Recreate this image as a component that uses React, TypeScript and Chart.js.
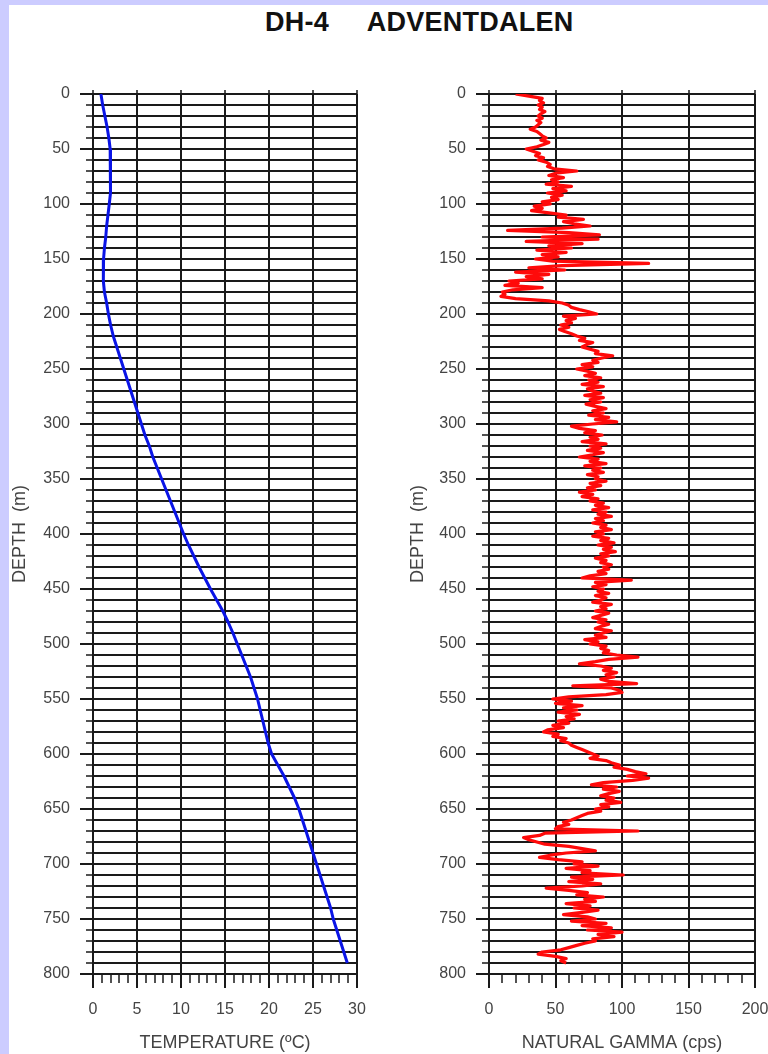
import React, { useEffect, useRef } from 'react';
import { Chart, registerables } from 'chart.js';

Chart.register(...registerables);

// ---- Borehole DH-4, Adventdalen: logged profiles ----
const CHART_TITLE = 'DH-4     ADVENTDALEN';
const DEPTH_TITLE = 'DEPTH  (m)';
const TEMP_TITLE = 'TEMPERATURE (ºC)';
const GAMMA_TITLE = 'NATURAL GAMMA (cps)';

// depth axis (m)
const depthMin = 0;
const depthMax = 800;
const depthMinorStep = 10;
const depthMajorStep = 50;

// temperature axis (°C)
const tempMin = 0;
const tempMax = 30;
const tempMinorStep = 1;
const tempMajorStep = 5;

// gamma axis (cps)
const gammaMin = 0;
const gammaMax = 200;
const gammaMinorStep = 10;
const gammaMajorStep = 50;

// temperature log
const tempDepth = [
  0, 10, 20, 30, 40, 50, 60, 70, 80, 90,
  100, 110, 120, 130, 140, 150, 160, 170, 180, 190,
  200, 210, 220, 230, 240, 250, 260, 270, 280, 290,
  300, 310, 320, 330, 340, 350, 360, 370, 380, 390,
  400, 410, 420, 430, 440, 450, 460, 470, 480, 490,
  500, 510, 520, 530, 540, 550, 560, 570, 580, 590,
  600, 610, 620, 630, 640, 650, 660, 670, 680, 690,
  700, 710, 720, 730, 740, 750, 760, 770, 780, 790,
];
const tempC = [
  0.9, 1.1, 1.35, 1.6, 1.8, 1.95, 2.0, 2.0, 2.0, 1.95,
  1.85, 1.7, 1.55, 1.45, 1.3, 1.2, 1.15, 1.2, 1.3, 1.55,
  1.75, 2.0, 2.3, 2.7, 3.1, 3.5, 3.9, 4.3, 4.7, 5.1,
  5.5, 5.9, 6.4, 6.8, 7.3, 7.8, 8.3, 8.8, 9.3, 9.8,
  10.3, 10.85, 11.45, 12.05, 12.7, 13.35, 14.05, 14.75, 15.35, 15.9,
  16.4, 16.9, 17.4, 17.9, 18.3, 18.7, 19.0, 19.3, 19.6, 19.9,
  20.3, 21.0, 21.7, 22.3, 22.9, 23.4, 23.8, 24.2, 24.6, 25.0,
  25.4, 25.8, 26.2, 26.6, 27.0, 27.3, 27.7, 28.1, 28.5, 28.9,
];

// natural gamma log
const gammaDepth = [
  0, 2, 4, 6, 8, 10, 12, 14, 16, 18,
  20, 22, 24, 26, 28, 30, 32, 34, 36, 38,
  40, 42, 44, 46, 48, 50, 52, 54, 56, 58,
  60, 62, 64, 66, 68, 70, 72, 74, 76, 78,
  80, 82, 84, 86, 88, 90, 92, 94, 96, 98,
  100, 102, 104, 106, 108, 110, 112, 114, 116, 118,
  120, 122, 124, 126, 128, 130, 132, 134, 136, 138,
  140, 142, 144, 146, 148, 150, 152, 154, 156, 158,
  160, 162, 164, 166, 168, 170, 172, 174, 176, 178,
  180, 182, 184, 186, 188, 190, 192, 194, 196, 198,
  200, 202, 204, 206, 208, 210, 212, 214, 216, 218,
  220, 222, 224, 226, 228, 230, 232, 234, 236, 238,
  240, 242, 244, 246, 248, 250, 252, 254, 256, 258,
  260, 262, 264, 266, 268, 270, 272, 274, 276, 278,
  280, 282, 284, 286, 288, 290, 292, 294, 296, 298,
  300, 302, 304, 306, 308, 310, 312, 314, 316, 318,
  320, 322, 324, 326, 328, 330, 332, 334, 336, 338,
  340, 342, 344, 346, 348, 350, 352, 354, 356, 358,
  360, 362, 364, 366, 368, 370, 372, 374, 376, 378,
  380, 382, 384, 386, 388, 390, 392, 394, 396, 398,
  400, 402, 404, 406, 408, 410, 412, 414, 416, 418,
  420, 422, 424, 426, 428, 430, 432, 434, 436, 438,
  440, 442, 444, 446, 448, 450, 452, 454, 456, 458,
  460, 462, 464, 466, 468, 470, 472, 474, 476, 478,
  480, 482, 484, 486, 488, 490, 492, 494, 496, 498,
  500, 502, 504, 506, 508, 510, 512, 514, 516, 518,
  520, 522, 524, 526, 528, 530, 532, 534, 536, 538,
  540, 542, 544, 546, 548, 550, 552, 554, 556, 558,
  560, 562, 564, 566, 568, 570, 572, 574, 576, 578,
  580, 582, 584, 586, 588, 590, 592, 594, 596, 598,
  600, 602, 604, 606, 608, 610, 612, 614, 616, 618,
  620, 622, 624, 626, 628, 630, 632, 634, 636, 638,
  640, 642, 644, 646, 648, 650, 652, 654, 656, 658,
  660, 662, 664, 666, 668, 670, 672, 674, 676, 678,
  680, 682, 684, 686, 688, 690, 692, 694, 696, 698,
  700, 702, 704, 706, 708, 710, 712, 714, 716, 718,
  720, 722, 724, 726, 728, 730, 732, 734, 736, 738,
  740, 742, 744, 746, 748, 750, 752, 754, 756, 758,
  760, 762, 764, 766, 768, 770, 772, 774, 776, 778,
  780, 782, 784, 786, 788, 790,
];
const gammaCps = [
  20, 30, 40, 38, 41, 37, 40, 38, 42, 39,
  37, 40, 36, 39, 37, 35, 31, 36, 38, 40,
  43, 39, 45, 41, 36, 28, 33, 38, 35, 41,
  37, 43, 46, 44, 49, 66, 50, 45, 56, 47,
  52, 43, 62, 48, 58, 44, 55, 47, 52, 40,
  46, 34, 40, 32, 45, 58, 52, 71, 56, 64,
  76, 55, 14, 60, 83, 40, 82, 28, 70, 45,
  62, 36, 58, 40, 52, 35, 48, 120, 55, 30,
  57, 20, 45, 28, 40, 15, 22, 12, 40, 18,
  10, 12, 9, 20, 45, 55, 60, 62, 68, 75,
  81, 56, 65, 58, 62, 54, 60, 53, 57, 62,
  66, 72, 68, 78, 73, 70, 76, 82, 80, 93,
  85, 78, 82, 70, 78, 66, 74, 80, 72, 84,
  75, 82, 70, 86, 74, 78, 84, 72, 86, 76,
  84, 73, 80, 88, 78, 86, 75, 90, 80, 96,
  78, 62, 68, 80, 72, 85, 76, 82, 70, 88,
  76, 84, 74, 86, 78, 68, 82, 76, 88, 72,
  84, 78, 86, 74, 82, 80, 88, 76, 84, 74,
  80, 68, 78, 70, 82, 76, 86, 80, 90, 78,
  88, 82, 92, 80, 86, 78, 88, 84, 92, 80,
  86, 78, 90, 84, 94, 82, 92, 86, 95, 84,
  90, 80, 88, 84, 92, 86, 90, 82, 88, 76,
  70, 107, 80, 88, 78, 86, 82, 90, 80, 88,
  84, 78, 92, 84, 88, 80, 90, 84, 78, 88,
  82, 90, 84, 80, 92, 86, 80, 88, 72, 82,
  76, 88, 84, 90, 86, 96, 112, 90, 80, 68,
  84, 92, 86, 96, 88, 94, 84, 90, 111, 63,
  92, 98, 100, 88, 60, 48, 62, 50, 70, 56,
  66, 52, 68, 58, 64, 52, 60, 48, 56, 44,
  41, 52, 48, 58, 54, 60, 62, 66, 70, 74,
  78, 82, 76, 88, 92, 98, 94, 104, 110, 118,
  104, 120, 108, 86, 77, 96, 86, 98, 90, 84,
  94, 88, 99, 84, 90, 80, 84, 74, 70, 66,
  62, 56, 60, 52, 50, 112, 42, 38, 26, 30,
  36, 42, 60, 70, 80, 58, 46, 38, 52, 70,
  64, 82, 58, 76, 70, 101, 62, 78, 60, 84,
  70, 43, 60, 74, 66, 86, 72, 80, 58, 76,
  64, 82, 70, 56, 74, 80, 62, 88, 70, 92,
  74, 100, 82, 94, 78, 80, 72, 66, 60, 54,
  40, 37, 50, 58, 54, 58,
];

const INK = '#1a1a1a';
const LABEL = '#444444';
const FONT = 'Arial, "Liberation Sans", sans-serif';

const isMultiple = (v: number, step: number) => {
  const r = Math.abs(v / step - Math.round(v / step));
  return r < 1e-6;
};

// short minor ticks on both axes plus little stubs above the top border
const minorTicks = {
  id: 'minorTicks',
  afterDraw(chart: any, _args: any, opts: any) {
    const { ctx, chartArea } = chart;
    const xs = chart.scales.x;
    const ys = chart.scales.y;
    ctx.save();
    ctx.strokeStyle = INK;
    ctx.lineWidth = 1.5;
    ctx.beginPath();
    xs.ticks.forEach((t: any) => {
      const px = Math.round(xs.getPixelForValue(t.value));
      if (isMultiple(t.value, opts.xMajor)) {
        ctx.moveTo(px, chartArea.top - 4);
        ctx.lineTo(px, chartArea.top);
      } else {
        ctx.moveTo(px, chartArea.bottom);
        ctx.lineTo(px, chartArea.bottom + 9);
      }
    });
    ys.ticks.forEach((t: any) => {
      if (!isMultiple(t.value, depthMajorStep)) {
        const py = Math.round(ys.getPixelForValue(t.value));
        ctx.moveTo(chartArea.left - 7, py);
        ctx.lineTo(chartArea.left, py);
      }
    });
    ctx.stroke();
    ctx.restore();
  },
};

type PanelProps = {
  depth: number[];
  values: number[];
  color: string;
  lineWidth: number;
  xMin: number;
  xMax: number;
  xMinor: number;
  xMajor: number;
  xTitle: string;
  left: number;
  padLeft: number;
  yWidth: number;
  padRight: number;
};

const W = 384;
const H = 1054;

function LogPanel(p: PanelProps) {
  const ref = useRef<HTMLCanvasElement | null>(null);

  useEffect(() => {
    const canvas = ref.current;
    if (!canvas) return;
    const points = p.depth.map((d, i) => ({ x: p.values[i], y: d }));
    const majorX = (c: any) => (c.tick && isMultiple(c.tick.value, p.xMajor) ? INK : 'transparent');
    const majorY = (c: any) => (c.tick && isMultiple(c.tick.value, depthMajorStep) ? INK : 'transparent');

    const chart = new Chart(canvas, {
      type: 'scatter',
      data: {
        datasets: [
          {
            data: points,
            showLine: true,
            borderColor: p.color,
            backgroundColor: p.color,
            borderWidth: p.lineWidth,
            borderJoinStyle: 'round',
            pointRadius: 0,
            tension: 0,
            fill: false,
          },
        ],
      },
      options: {
        animation: false,
        responsive: false,
        maintainAspectRatio: false,
        devicePixelRatio: 1,
        layout: { padding: { top: 94, bottom: 0, left: p.padLeft, right: p.padRight } },
        plugins: {
          legend: { display: false },
          tooltip: { enabled: false },
          minorTicks: { xMajor: p.xMajor },
        } as any,
        scales: {
          x: {
            type: 'linear',
            position: 'bottom',
            min: p.xMin,
            max: p.xMax,
            afterFit: (s: any) => {
              s.height = 80;
              s.paddingLeft = 0;
              s.paddingRight = 0;
            },
            ticks: {
              stepSize: p.xMinor,
              autoSkip: false,
              maxRotation: 0,
              padding: 12,
              color: LABEL,
              font: { family: FONT, size: 16 },
              callback: (v: any) => (isMultiple(Number(v), p.xMajor) ? String(v) : ''),
            },
            grid: {
              color: majorX,
              tickColor: majorX,
              lineWidth: 2,
              tickWidth: 2,
              tickLength: 14,
            },
            border: { color: INK, width: 2 },
            title: {
              display: true,
              text: p.xTitle,
              color: LABEL,
              font: { family: FONT, size: 18 },
              padding: { top: 0, bottom: 0 },
            },
          },
          y: {
            type: 'linear',
            position: 'left',
            reverse: true,
            min: depthMin,
            max: depthMax,
            afterFit: (s: any) => {
              s.width = p.yWidth;
              s.paddingTop = 0;
              s.paddingBottom = 0;
            },
            ticks: {
              stepSize: depthMinorStep,
              autoSkip: false,
              padding: 10,
              color: LABEL,
              font: { family: FONT, size: 16 },
              callback: (v: any) => (isMultiple(Number(v), depthMajorStep) ? String(v) : ''),
            },
            grid: {
              color: INK,
              tickColor: majorY,
              lineWidth: 2,
              tickWidth: 2,
              tickLength: 13,
            },
            border: { color: INK, width: 2 },
            title: {
              display: true,
              text: DEPTH_TITLE,
              color: LABEL,
              font: { family: FONT, size: 18 },
              padding: { top: 9, bottom: 0 },
            },
          },
        },
      } as any,
      plugins: [minorTicks],
    });

    return () => chart.destroy();
  }, []);

  return (
    <canvas
      ref={ref}
      width={W}
      height={H}
      style={{ position: 'absolute', left: p.left, top: 0, width: W, height: H }}
    />
  );
}

export default function App() {
  return (
    <div
      style={{
        position: 'absolute',
        left: 0,
        top: 0,
        width: 768,
        height: 1054,
        background: '#ccccff',
        overflow: 'hidden',
      }}
    >
      <div
        style={{
          position: 'absolute',
          left: 9,
          top: 5,
          right: 0,
          bottom: 0,
          background: '#ffffff',
        }}
      />
      <div
        style={{
          position: 'absolute',
          left: 265,
          top: 9,
          fontFamily: FONT,
          fontWeight: 'bold',
          fontSize: 27,
          lineHeight: '27px',
          letterSpacing: '0.25px',
          whiteSpace: 'pre',
          color: '#111',
        }}
      >
        {CHART_TITLE}
      </div>
      <LogPanel
        depth={tempDepth}
        values={tempC}
        color="#0a14e6"
        lineWidth={3}
        xMin={tempMin}
        xMax={tempMax}
        xMinor={tempMinorStep}
        xMajor={tempMajorStep}
        xTitle={TEMP_TITLE}
        left={0}
        padLeft={0}
        yWidth={93}
        padRight={27}
      />
      <LogPanel
        depth={gammaDepth}
        values={gammaCps}
        color="#ff0a0a"
        lineWidth={3.2}
        xMin={gammaMin}
        xMax={gammaMax}
        xMinor={gammaMinorStep}
        xMajor={gammaMajorStep}
        xTitle={GAMMA_TITLE}
        left={384}
        padLeft={14}
        yWidth={91}
        padRight={13}
      />
    </div>
  );
}
